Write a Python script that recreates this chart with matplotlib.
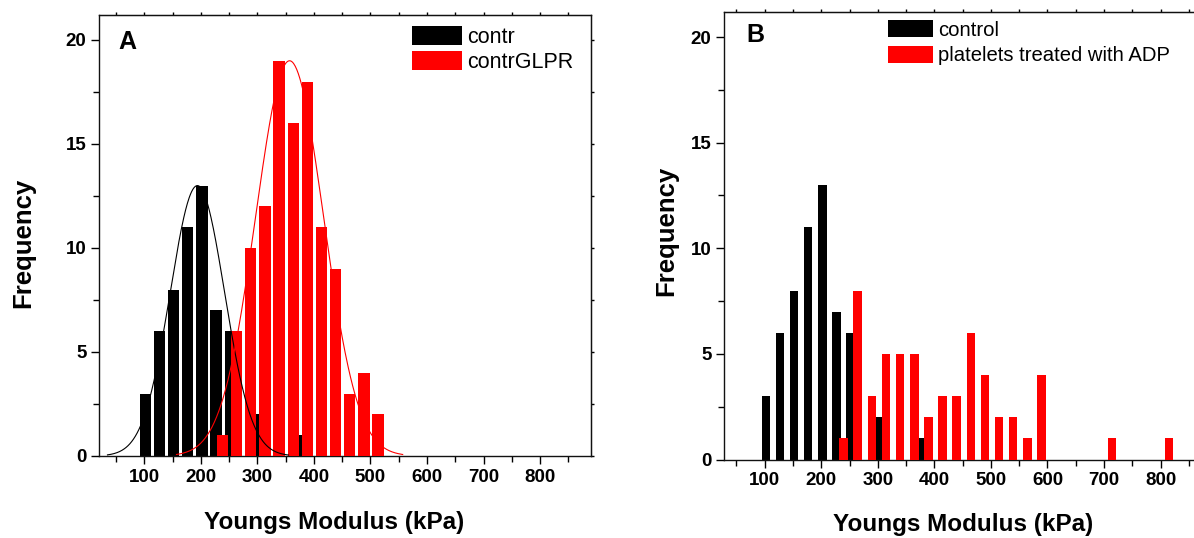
import numpy as np
import matplotlib
matplotlib.use("Agg")
import matplotlib.pyplot as plt
from matplotlib.ticker import MultipleLocator

plt.rcParams["font.family"] = ["Liberation Sans", "DejaVu Sans"]
plt.rcParams["font.weight"] = "bold"

# panel A: histogram bins (centre, count)
contr_x = [102, 127, 152, 177, 202, 227, 252, 302, 377]
contr_y = [3, 6, 8, 11, 13, 7, 6, 2, 1]
glpr_x = [238.5, 263.5, 288.5, 313.5, 338.5, 363.5, 388.5, 413.5, 438.5, 463.5, 488.5, 513.5]
glpr_y = [1, 6, 10, 12, 19, 16, 18, 11, 9, 3, 4, 2]

# gaussian fits: centre, peak, sigma, drawn range
contr_fit = (194, 13.0, 48, 35, 355)
glpr_fit = (357, 19.0, 60, 157, 557)

# panel B
control_x = [102, 127, 152, 177, 202, 227, 252, 302, 377]
control_y = [3, 6, 8, 11, 13, 7, 6, 2, 1]
adp_x = [239.5, 264.5, 289.5, 314.5, 339.5, 364.5, 389.5, 414.5, 439.5, 464.5,
         489.5, 514.5, 539.5, 564.5, 589.5, 714.5, 814.5]
adp_y = [1, 8, 3, 5, 5, 5, 2, 3, 3, 6, 4, 2, 2, 1, 4, 1, 1]

RED = "#ff0000"


def gauss_line(ax, fit, color):
    xc, peak, sig, x0, x1 = fit
    xs = np.linspace(x0, x1, 300)
    ax.plot(xs, peak * np.exp(-(xs - xc) ** 2 / (2 * sig ** 2)), color=color, lw=0.8, zorder=4)


def style_axes(ax, xlim, right_ticks):
    ax.set_xlim(*xlim)
    ax.set_ylim(0, 21.2)
    ax.xaxis.set_major_locator(MultipleLocator(100))
    ax.xaxis.set_minor_locator(MultipleLocator(50))
    ax.yaxis.set_major_locator(MultipleLocator(5))
    ax.yaxis.set_minor_locator(MultipleLocator(2.5))
    ax.set_xticks([100, 200, 300, 400, 500, 600, 700, 800])
    ax.tick_params(which="major", direction="out", length=6, width=1, labelsize=13.5, pad=3)
    ax.tick_params(which="minor", direction="out", length=4, width=1)
    for s in ax.spines.values():
        s.set_linewidth(1.0)
        s.set_color("#111111")
    top = ax.secondary_xaxis("top")
    top.xaxis.set_major_locator(MultipleLocator(50))
    top.tick_params(which="major", direction="out", length=2.5, width=1, labeltop=False)
    if right_ticks:
        right = ax.secondary_yaxis("right")
        right.yaxis.set_major_locator(MultipleLocator(2.5))
        right.tick_params(which="major", direction="out", length=2.5, width=1, labelright=False)
    else:
        ax.spines["right"].set_visible(False)


fig = plt.figure(figsize=(11.94, 5.38), dpi=100)

# ---- panel A
axA = fig.add_axes([99 / 1194, 1 - 456 / 538, 492 / 1194, 441 / 538])
b1 = axA.bar(contr_x, contr_y, width=20, color="black", zorder=2)
b2 = axA.bar(glpr_x, glpr_y, width=20, color=RED, zorder=3)
gauss_line(axA, contr_fit, "black")
gauss_line(axA, glpr_fit, RED)
style_axes(axA, (20, 890), True)
axA.legend([b1, b2], ["contr", "contrGLPR"], loc="upper left",
           bbox_to_anchor=(412 / 1194, 1 - 26 / 538), bbox_transform=fig.transFigure,
           frameon=False, prop={"size": 15.5, "weight": "normal"},
           handlelength=2.32, handleheight=0.98, handletextpad=0.22,
           labelspacing=0.16, borderpad=0, borderaxespad=0)

# ---- panel B
axB = fig.add_axes([724 / 1194, 1 - 459.5 / 538, 481.8 / 1194, 447.8 / 538])
c1 = axB.bar(control_x, control_y, width=15, color="black", zorder=2)
c2 = axB.bar(adp_x, adp_y, width=15, color=RED, zorder=3)
style_axes(axB, (28, 880), False)
axB.legend([c1, c2], ["control", "platelets treated with ADP"], loc="upper left",
           bbox_to_anchor=(888 / 1194, 1 - 20 / 538), bbox_transform=fig.transFigure,
           frameon=False, prop={"size": 14.6, "weight": "normal"},
           handlelength=2.2, handleheight=0.94, handletextpad=0.28,
           labelspacing=0.3, borderpad=0, borderaxespad=0)

# labels
fig.text(127 / 1194, 1 - 42 / 538, "A", fontsize=18, ha="center", va="center")
fig.text(755 / 1194, 1 - 35 / 538, "B", fontsize=18, ha="center", va="center")
fig.text(23 / 1194, 1 - 243 / 538, "Frequency", fontsize=18.5, rotation=90, ha="center", va="center")
fig.text(666 / 1194, 1 - 231 / 538, "Frequency", fontsize=18.5, rotation=90, ha="center", va="center")
fig.text(334 / 1194, 1 - 523 / 538, "Youngs Modulus (kPa)", fontsize=17.5, ha="center", va="center")
fig.text(963 / 1194, 1 - 524 / 538, "Youngs Modulus (kPa)", fontsize=17.5, ha="center", va="center")

fig.savefig("out.png", dpi=100)
